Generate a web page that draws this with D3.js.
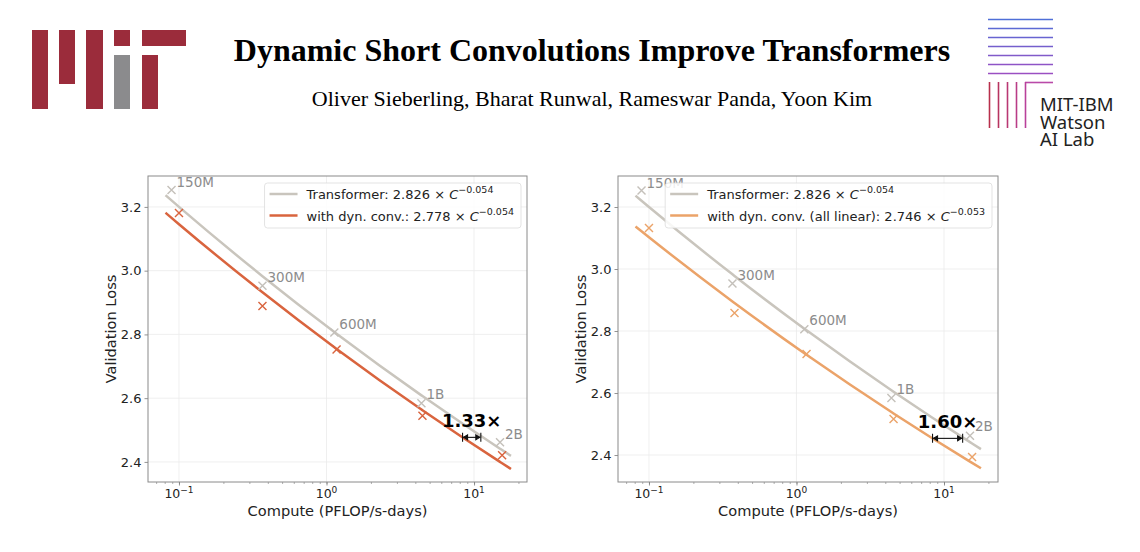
<!DOCTYPE html>
<html>
<head>
<meta charset="utf-8">
<script src="https://cdn.jsdelivr.net/npm/d3@7"></script>
<style>
  body { margin: 0; background: #fff; }
  svg text { font-family: "DejaVu Sans", sans-serif; }
</style>
</head>
<body>
<div id="poster"></div>
<script>
// model sizes and measured points (compute in PFLOP/s-days, validation loss)
const models = ["150M", "300M", "600M", "1B", "2B"];
const computeTf = [0.089, 0.368, 1.13, 4.4, 15.0];
const lossTf = [3.253, 2.953, 2.806, 2.584, 2.462];
const computeDyn = [0.1, 0.368, 1.17, 4.47, 15.5];
const lossDyn = [3.181, 2.889, 2.753, 2.545, 2.421];
const computeLin = [0.1, 0.38, 1.17, 4.55, 15.5];
const lossLin = [3.132, 2.858, 2.726, 2.516, 2.394];

// power-law fits a * C^b, as printed in the legends
const fitTf = [2.826, -0.054];
const fitDyn = [2.778, -0.054];
const fitLin = [2.746, -0.053];
const fitRange = [0.081, 17.8];

// speedup annotations: start compute of the arrow and the ratio
const speedLabels = ["1.33×", "1.60×"];
const speedStart = [8.36, 8.36];
const speedRatio = [1.33, 1.60];

const xTicks = [0.1, 1, 10];
const xTickExp = ["−1", "0", "1"];
const yTicks = [2.4, 2.6, 2.8, 3.0, 3.2];

const W = 1140, H = 552;
const svg = d3.select("#poster").append("svg")
  .attr("width", W).attr("height", H);

// ---- header ----
const mitColor = "#9b2c3b";
const mitBars = [
  { x: 32, y: 30, w: 16, h: 79, c: mitColor },
  { x: 59, y: 30, w: 16, h: 54, c: mitColor },
  { x: 86, y: 30, w: 17, h: 79, c: mitColor },
  { x: 114, y: 30, w: 16, h: 16, c: mitColor },
  { x: 114, y: 55, w: 16, h: 54, c: "#8b8b8d" },
  { x: 142, y: 30, w: 44, h: 16, c: mitColor },
  { x: 142, y: 55, w: 16, h: 54, c: mitColor }
];
svg.append("g").selectAll("rect").data(mitBars).join("rect")
  .attr("x", d => d.x).attr("y", d => d.y)
  .attr("width", d => d.w).attr("height", d => d.h)
  .attr("fill", d => d.c);

svg.append("text")
  .attr("x", 592).attr("y", 61)
  .attr("text-anchor", "middle")
  .style("font-family", "'Liberation Serif', serif")
  .style("font-weight", "bold")
  .style("font-size", "32px")
  .text("Dynamic Short Convolutions Improve Transformers");

svg.append("text")
  .attr("x", 592).attr("y", 106)
  .attr("text-anchor", "middle")
  .style("font-family", "'Liberation Serif', serif")
  .style("font-size", "22px")
  .text("Oliver Sieberling, Bharat Runwal, Rameswar Panda, Yoon Kim");

// MIT-IBM logo
const ibm = svg.append("g");
const hColor = d3.scaleLinear().domain([0, 6]).range(["#4f6fd8", "#9a4fc2"]);
d3.range(7).forEach(i => {
  ibm.append("line")
    .attr("x1", 988).attr("x2", 1053)
    .attr("y1", 19.5 + i * 9).attr("y2", 19.5 + i * 9)
    .attr("stroke", hColor(i)).attr("stroke-width", 1.6);
});
ibm.append("line")
  .attr("x1", 1025).attr("x2", 1053).attr("y1", 82.5).attr("y2", 82.5)
  .attr("stroke", "#b94aa8").attr("stroke-width", 1.6);
const vColor = d3.scaleLinear().domain([0, 4]).range(["#b8304c", "#b9409a"]);
d3.range(5).forEach(i => {
  ibm.append("line")
    .attr("x1", 989.5 + i * 9).attr("x2", 989.5 + i * 9)
    .attr("y1", 82).attr("y2", 128)
    .attr("stroke", vColor(i)).attr("stroke-width", 1.6);
});
["MIT-IBM", "Watson", "AI Lab"].forEach((t, i) => {
  ibm.append("text")
    .attr("x", 1040).attr("y", 111 + i * 17.5)
    .style("font-family", "'Noto Sans', sans-serif")
    .style("font-size", "18.5px")
    .attr("fill", "#222")
    .text(t);
});

// ---- panels ----
const panels = [
  {
    id: "a", left: 148, right: 527, top: 176, bottom: 482,
    xDom: [Math.pow(10, -1.21), Math.pow(10, 1.359)], yDom: [2.337, 3.297],
    color: "#d9643e", dynC: computeDyn, dynL: lossDyn, dynFit: fitDyn,
    dynName: "with dyn. conv.: ", speed: 0, labelDy: [-8, -9, -9, -9, -8]
  },
  {
    id: "b", left: 618, right: 998, top: 176, bottom: 482,
    xDom: [Math.pow(10, -1.21), Math.pow(10, 1.366)], yDom: [2.313, 3.30],
    color: "#eba369", dynC: computeLin, dynL: lossLin, dynFit: fitLin,
    dynName: "with dyn. conv. (all linear): ", speed: 1, labelDy: [-8, -9, -9, -9, -10]
  }
];

const tfColor = "#c9c5bd";
const tfMarker = "#c4c0ba";

panels.forEach(p => {
  const g = svg.append("g");
  const x = d3.scaleLog().domain(p.xDom).range([p.left, p.right]);
  const y = d3.scaleLinear().domain(p.yDom).range([p.bottom, p.top]);

  g.append("clipPath").attr("id", "clip-" + p.id)
    .append("rect")
    .attr("x", p.left).attr("y", p.top)
    .attr("width", p.right - p.left).attr("height", p.bottom - p.top);

  // grid
  g.append("g").selectAll("line").data(xTicks).join("line")
    .attr("x1", d => x(d)).attr("x2", d => x(d))
    .attr("y1", p.top).attr("y2", p.bottom)
    .attr("stroke", "#ebebeb").attr("stroke-width", 0.8);
  g.append("g").selectAll("line").data(yTicks).join("line")
    .attr("x1", p.left).attr("x2", p.right)
    .attr("y1", d => y(d)).attr("y2", d => y(d))
    .attr("stroke", "#ebebeb").attr("stroke-width", 0.8);

  // x axis with log minor ticks
  const xAxis = d3.axisBottom(x)
    .tickValues(x.ticks())
    .tickSize(2)
    .tickFormat("");
  const xa = g.append("g").attr("transform", `translate(0,${p.bottom})`).call(xAxis);
  xa.select(".domain").remove();
  xa.selectAll(".tick line").attr("stroke", "#777").attr("stroke-width", 0.6);
  const xMaj = g.append("g").attr("transform", `translate(0,${p.bottom})`)
    .call(d3.axisBottom(x).tickValues(xTicks).tickSize(3.5).tickFormat(""));
  xMaj.select(".domain").remove();
  xMaj.selectAll(".tick line").attr("stroke", "#777").attr("stroke-width", 0.8);

  xTicks.forEach((t, i) => {
    const tx = g.append("text")
      .attr("x", x(t)).attr("y", p.bottom + 16)
      .attr("text-anchor", "middle")
      .attr("fill", "#222")
      .style("font-size", "12.5px");
    tx.append("tspan").text("10");
    tx.append("tspan").attr("dy", -5).style("font-size", "9px").text(xTickExp[i]);
  });

  // y axis
  const ya = g.append("g").attr("transform", `translate(${p.left},0)`)
    .call(d3.axisLeft(y).tickValues(yTicks).tickSize(3.5).tickPadding(3).tickFormat(d3.format(".1f")));
  ya.select(".domain").remove();
  ya.selectAll(".tick line").attr("stroke", "#777").attr("stroke-width", 0.8);
  ya.selectAll(".tick text")
    .style("font-family", "'DejaVu Sans', sans-serif")
    .style("font-size", "13px").attr("fill", "#222");

  // frame
  g.append("rect")
    .attr("x", p.left).attr("y", p.top)
    .attr("width", p.right - p.left).attr("height", p.bottom - p.top)
    .attr("fill", "none").attr("stroke", "#8a8a8a").attr("stroke-width", 1);

  // axis titles
  g.append("text")
    .attr("x", (p.left + p.right) / 2).attr("y", p.bottom + 34)
    .attr("text-anchor", "middle").attr("fill", "#222")
    .style("font-size", "14.6px")
    .text("Compute (PFLOP/s-days)");
  g.append("text")
    .attr("transform", `translate(${p.left - 32},${(p.top + p.bottom) / 2}) rotate(-90)`)
    .attr("text-anchor", "middle").attr("fill", "#222")
    .style("font-size", "14.6px")
    .text("Validation Loss");

  const plot = g.append("g").attr("clip-path", `url(#clip-${p.id})`);

  // fitted power laws, evaluated at the fit range and the measured computes
  const fitPoints = (fit, cs) => [fitRange[0], ...cs, fitRange[1]]
    .filter(c => c >= fitRange[0] && c <= fitRange[1])
    .sort((a, b) => a - b)
    .map(c => [c, fit[0] * Math.pow(c, fit[1])]);
  const line = d3.line().x(d => x(d[0])).y(d => y(d[1])).curve(d3.curveMonotoneX);

  plot.append("path")
    .datum(fitPoints(fitTf, computeTf.concat(p.dynC)))
    .attr("d", line).attr("fill", "none")
    .attr("stroke", tfColor).attr("stroke-width", 2.5);
  plot.append("path")
    .datum(fitPoints(p.dynFit, computeTf.concat(p.dynC)))
    .attr("d", line).attr("fill", "none")
    .attr("stroke", p.color).attr("stroke-width", 2.5);

  const cross = (sel, cx, cy, col) => {
    const s = 4;
    sel.append("path")
      .attr("d", `M${cx - s},${cy - s}L${cx + s},${cy + s}M${cx - s},${cy + s}L${cx + s},${cy - s}`)
      .attr("stroke", col).attr("stroke-width", 1.4).attr("fill", "none");
  };
  computeTf.forEach((c, i) => cross(plot, x(c), y(lossTf[i]), tfMarker));
  p.dynC.forEach((c, i) => cross(plot, x(c), y(p.dynL[i]), p.color));

  // model size labels
  models.forEach((m, i) => {
    plot.append("text")
      .attr("x", x(computeTf[i]) + 5)
      .attr("y", y(lossTf[i]) + p.labelDy[i] + 5)
      .attr("fill", "#8c8c8c")
      .style("font-size", "13.5px")
      .text(m);
  });

  // speedup arrow
  const s = p.speed;
  const c1 = speedStart[s], c2 = speedStart[s] * speedRatio[s];
  const ay = y(p.dynFit[0] * Math.pow(c1, p.dynFit[1]));
  const ax1 = x(c1), ax2 = x(c2);
  const ar = g.append("g").attr("stroke", "#111").attr("stroke-width", 1.1).attr("fill", "none");
  ar.append("path").attr("d", `M${ax1 + 1},${ay}L${ax2 - 1},${ay}`);
  ar.append("path").attr("d", `M${ax1},${ay - 4.5}L${ax1},${ay + 4.5}M${ax2},${ay - 4.5}L${ax2},${ay + 4.5}`);
  ar.append("path").attr("d", `M${ax1 + 5},${ay - 2.5}L${ax1 + 1},${ay}L${ax1 + 5},${ay + 2.5}Z`).attr("fill", "#111");
  ar.append("path").attr("d", `M${ax2 - 5},${ay - 2.5}L${ax2 - 1},${ay}L${ax2 - 5},${ay + 2.5}Z`).attr("fill", "#111");
  g.append("text")
    .attr("x", (ax1 + ax2) / 2).attr("y", ay - 10)
    .attr("text-anchor", "middle").attr("fill", "#000")
    .style("font-size", "18px").style("font-weight", "bold")
    .text(speedLabels[s]);

  // legend
  const leg = g.append("g");
  const box = leg.append("rect")
    .attr("fill", "#fff").attr("fill-opacity", 0.85)
    .attr("stroke", "#dcdcdc").attr("stroke-width", 0.8).attr("rx", 3);
  const entries = [
    { name: "Transformer: ", fit: fitTf, col: tfColor },
    { name: p.dynName, fit: p.dynFit, col: p.color }
  ];
  const texts = entries.map((e, i) => {
    const ly = p.top + 18 + i * 21.5;
    const t = leg.append("text").attr("y", ly + 5).attr("fill", "#222").style("font-size", "13px");
    t.append("tspan").text(e.name + e.fit[0].toFixed(3) + " × ");
    t.append("tspan").style("font-style", "italic").text("C");
    t.append("tspan").attr("dy", -6).style("font-size", "9.5px")
      .text("−" + Math.abs(e.fit[1]).toFixed(3));
    return { t, ly, col: e.col };
  });
  const tw = d3.max(texts, d => d.t.node().getComputedTextLength());
  const boxW = tw + 49, boxR = p.right - 6, boxL = boxR - boxW;
  box.attr("x", boxL).attr("y", p.top + 7).attr("width", boxW).attr("height", 45);
  texts.forEach(d => {
    d.t.attr("x", boxL + 42);
    leg.append("line")
      .attr("x1", boxL + 5).attr("x2", boxL + 33)
      .attr("y1", d.ly).attr("y2", d.ly)
      .attr("stroke", d.col).attr("stroke-width", 2.5);
  });
});
</script>
</body>
</html>
